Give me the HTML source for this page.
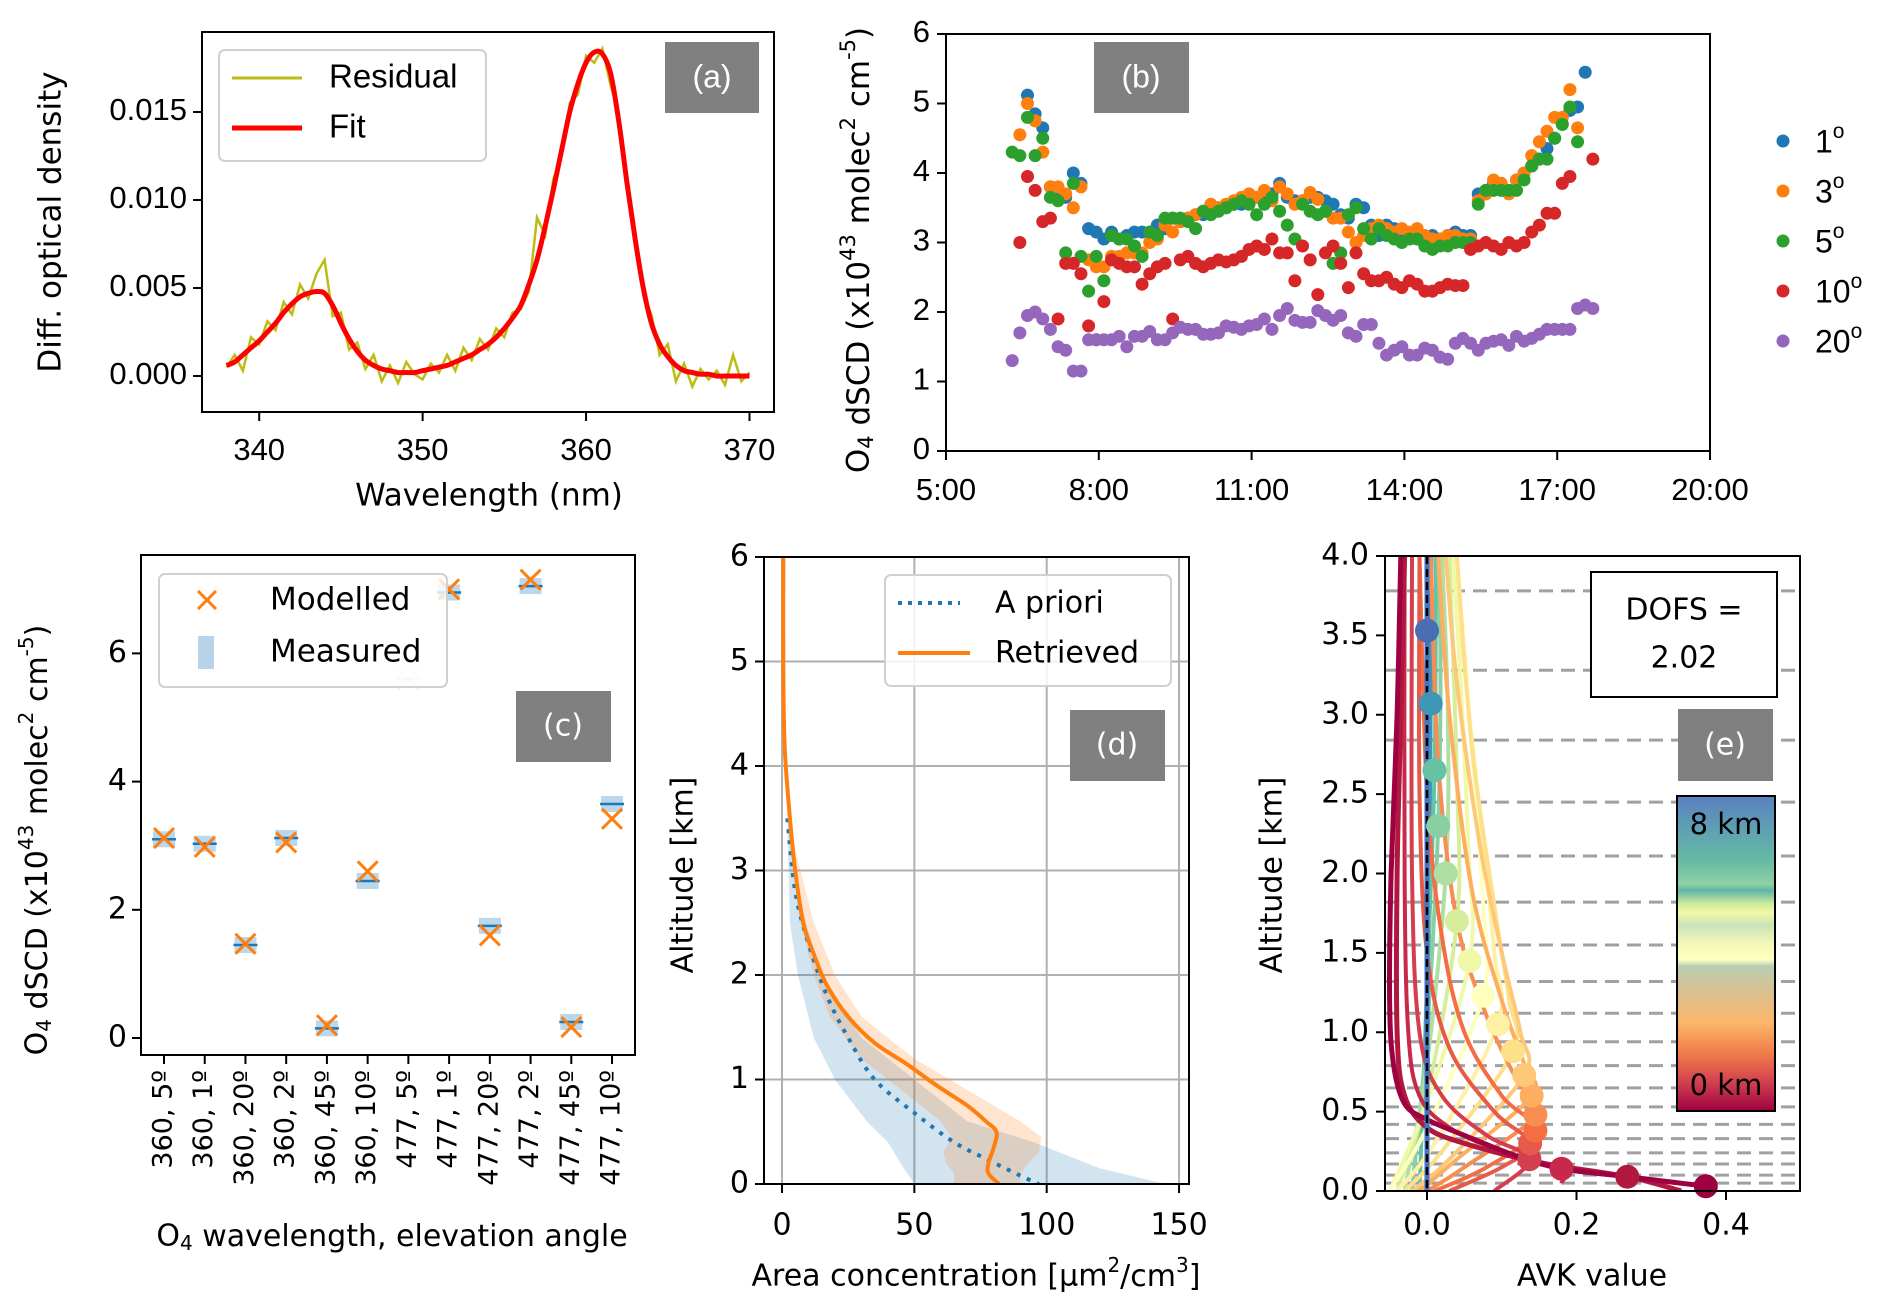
<!DOCTYPE html>
<html><head><meta charset="utf-8"><style>
html,body{margin:0;padding:0;background:#fff;}
svg{display:block;}
.t{font-family:"DejaVu Sans","Liberation Sans",sans-serif;fill:#000;}
.c{font-family:"Liberation Sans","DejaVu Sans",sans-serif;fill:#000;}
</style></head><body>
<svg id="fig" xmlns="http://www.w3.org/2000/svg" width="1892" height="1310" viewBox="0 0 1892 1310">
<defs>
<clipPath id="clipA"><rect x="202" y="32" width="572" height="380"/></clipPath>
<clipPath id="clipD"><rect x="764" y="557" width="425" height="627"/></clipPath>
<clipPath id="clipE"><rect x="1385" y="556" width="415" height="635"/></clipPath>
<linearGradient id="cbar" x1="0" y1="0" x2="0" y2="1">
<stop offset="0" stop-color="#5b7fbf"/><stop offset="0.1" stop-color="#5e9fb5"/><stop offset="0.2" stop-color="#63b9a4"/>
<stop offset="0.28" stop-color="#8fd0a2"/><stop offset="0.3" stop-color="#5fb3aa"/><stop offset="0.34" stop-color="#c9e89c"/>
<stop offset="0.37" stop-color="#f3f9a8"/><stop offset="0.41" stop-color="#c8e4b8"/><stop offset="0.47" stop-color="#f4f7b8"/>
<stop offset="0.52" stop-color="#ffffc0"/><stop offset="0.54" stop-color="#b8cfb4"/><stop offset="0.62" stop-color="#d8c090"/>
<stop offset="0.72" stop-color="#fbb668"/><stop offset="0.82" stop-color="#f07a4a"/><stop offset="0.91" stop-color="#d0404e"/>
<stop offset="1" stop-color="#9e0142"/></linearGradient>
</defs>

<g>
<text class="t" font-size="31" transform="translate(52,222) rotate(-90)" text-anchor="middle" dominant-baseline="middle">Diff. optical density</text>
<text class="t" font-size="31" x="489" y="497" text-anchor="middle" dominant-baseline="middle">Wavelength (nm)</text>
<g id="gA"></g>
<rect x="202" y="32" width="572" height="380" fill="none" stroke="#000" stroke-width="2"/>
<rect x="219" y="50" width="267" height="111" rx="6" fill="#fff" fill-opacity="0.85" stroke="#d0d0d0" stroke-width="2"/>
<line x1="232" y1="78" x2="302" y2="78" stroke="#bcbc14" stroke-width="3"/>
<text class="c" font-size="33" x="329" y="79" dominant-baseline="middle">Residual</text>
<line x1="232" y1="128" x2="302" y2="128" stroke="#ff0000" stroke-width="5"/>
<text class="c" font-size="33" x="329" y="129" dominant-baseline="middle">Fit</text>
<rect x="665" y="42" width="94" height="71" fill="#808080"/>
<text class="c" font-size="32" x="712" y="79" style="fill:#fff" text-anchor="middle" dominant-baseline="middle">(a)</text>
</g>

<g>
<text class="t" font-size="31" transform="translate(860,250) rotate(-90)" text-anchor="middle" dominant-baseline="middle">O<tspan font-size="21" dy="7">4</tspan><tspan dy="-7"> dSCD (x10</tspan><tspan font-size="21" dy="-11">43</tspan><tspan dy="11"> molec</tspan><tspan font-size="21" dy="-11">2</tspan><tspan dy="11"> cm</tspan><tspan font-size="21" dy="-11">-5</tspan><tspan dy="11">)</tspan></text>
<g id="gB"></g>
<rect x="946" y="34" width="764" height="417" fill="none" stroke="#000" stroke-width="2"/>
<rect x="1094" y="42" width="95" height="71" fill="#808080"/>
<text class="c" font-size="32" x="1141" y="79" style="fill:#fff" text-anchor="middle" dominant-baseline="middle">(b)</text>
<g id="gBLeg"></g>
</g>

<g>
<text class="t" font-size="30" transform="translate(38,840) rotate(-90)" text-anchor="middle" dominant-baseline="middle">O<tspan font-size="20" dy="7">4</tspan><tspan dy="-7"> dSCD (x10</tspan><tspan font-size="20" dy="-11">43</tspan><tspan dy="11"> molec</tspan><tspan font-size="20" dy="-11">2</tspan><tspan dy="11"> cm</tspan><tspan font-size="20" dy="-11">-5</tspan><tspan dy="11">)</tspan></text>
<text class="t" font-size="30" x="392" y="1237" text-anchor="middle" dominant-baseline="middle">O<tspan font-size="20" dy="7">4</tspan><tspan dy="-7"> wavelength, elevation angle</tspan></text>
<g id="gC"></g>
<rect x="141" y="555" width="494" height="500" fill="none" stroke="#000" stroke-width="2"/>
<rect x="159" y="574" width="288" height="113" rx="6" fill="#fff" fill-opacity="0.8" stroke="#d0d0d0" stroke-width="2"/>
<path d="M198,591 L216,609 M216,591 L198,609" stroke="#ff7f0e" stroke-width="3"/>
<text class="t" font-size="31" x="270" y="601" dominant-baseline="middle">Modelled</text>
<rect x="198" y="636" width="16" height="33" fill="#a6c8e4" fill-opacity="0.8"/>
<text class="t" font-size="31" x="270" y="653" dominant-baseline="middle">Measured</text>
<rect x="516" y="691" width="95" height="71" fill="#808080"/>
<text class="t" font-size="30" x="563" y="727" style="fill:#fff" text-anchor="middle" dominant-baseline="middle">(c)</text>
</g>

<g>
<text class="t" font-size="30" transform="translate(684,875) rotate(-90)" text-anchor="middle" dominant-baseline="middle">Altitude [km]</text>
<text class="t" font-size="30" x="976" y="1277" text-anchor="middle" dominant-baseline="middle">Area concentration [µm<tspan font-size="20" dy="-11">2</tspan><tspan dy="11">/cm</tspan><tspan font-size="20" dy="-11">3</tspan><tspan dy="11">]</tspan></text>
<g id="gD"></g>
<rect x="764" y="557" width="425" height="627" fill="none" stroke="#000" stroke-width="2"/>
<rect x="885" y="575" width="286" height="111" rx="6" fill="#fff" fill-opacity="0.85" stroke="#d0d0d0" stroke-width="2"/>
<line x1="898" y1="603" x2="960" y2="603" stroke="#1f77b4" stroke-width="4" stroke-dasharray="4,6"/>
<text class="t" font-size="30" x="995" y="604" dominant-baseline="middle">A priori</text>
<line x1="898" y1="653" x2="970" y2="653" stroke="#ff7f0e" stroke-width="4"/>
<text class="t" font-size="30" x="995" y="654" dominant-baseline="middle">Retrieved</text>
<rect x="1070" y="710" width="95" height="71" fill="#808080"/>
<text class="t" font-size="30" x="1117" y="746" style="fill:#fff" text-anchor="middle" dominant-baseline="middle">(d)</text>
</g>

<g>
<text class="t" font-size="30" transform="translate(1273,875) rotate(-90)" text-anchor="middle" dominant-baseline="middle">Altitude [km]</text>
<text class="t" font-size="30" x="1592" y="1277" text-anchor="middle" dominant-baseline="middle">AVK value</text>
<g id="gE"></g>
<rect x="1385" y="556" width="415" height="635" fill="none" stroke="#000" stroke-width="2"/>
<rect x="1591" y="572" width="186" height="125" fill="#fff" stroke="#000" stroke-width="2"/>
<text class="t" font-size="30" x="1684" y="611" text-anchor="middle" dominant-baseline="middle">DOFS =</text>
<text class="t" font-size="30" x="1684" y="659" text-anchor="middle" dominant-baseline="middle">2.02</text>
<rect x="1678" y="709" width="95" height="72" fill="#808080"/>
<text class="t" font-size="30" x="1725" y="746" style="fill:#fff" text-anchor="middle" dominant-baseline="middle">(e)</text>
<rect x="1677" y="796" width="98" height="315" fill="url(#cbar)" stroke="#000" stroke-width="2"/>
<text class="t" font-size="29" x="1726" y="826" text-anchor="middle" dominant-baseline="middle">8 km</text>
<text class="t" font-size="29" x="1726" y="1087" text-anchor="middle" dominant-baseline="middle">0 km</text>
</g>
</svg>
<script>
// ===== Panel (a) data =====
const aWavelength = [338,338.5,339,339.5,340,340.5,341,341.5,342,342.5,343,343.5,344,344.5,345,345.5,346,346.5,347,347.5,348,348.5,349,349.5,350,350.5,351,351.5,352,352.5,353,353.5,354,354.5,355,355.5,356,356.5,357,357.5,358,358.5,359,359.5,360,360.5,361,361.5,362,362.5,363,363.5,364,364.5,365,365.5,366,366.5,367,367.5,368,368.5,369,369.5,370];
const aFit = [.0006,.0008,.0012,.0016,.002,.0025,.003,.0036,.0041,.0045,.0047,.0048,.0047,.004,.003,.0021,.0014,.0009,.0006,.0004,.0003,.0002,.0002,.0002,.0003,.0004,.0005,.0006,.0008,.001,.0012,.0015,.0018,.0022,.0027,.0033,.004,.0052,.0066,.0085,.0106,.0128,.015,.0166,.0178,.0184,.0183,.0172,.0145,.011,.0078,.005,.003,.0018,.0011,.0006,.0003,.0002,.0001,.0001,0,0,0,0,0];
const aResidual = [.0005,.0012,.0003,.0022,.0018,.0031,.0026,.0042,.0035,.0052,.0044,.0058,.0066,.0034,.0036,.0015,.0019,.0004,.0012,-.0003,.0006,-.0004,.0008,.0001,-.0002,.0007,.0002,.0012,.0003,.0016,.0009,.0021,.0015,.0027,.0022,.0036,.0038,.0048,.0090,.0080,.0112,.0125,.0155,.0160,.0182,.0178,.0186,.0165,.0150,.0105,.0082,.0046,.0035,.0012,.0018,-.0003,.0007,-.0006,.0004,-.0002,.0003,-.0005,.0012,-.0003,.0002];
const aXTicks = [340,350,360,370];
const aYTicks = [0,0.005,0.010,0.015];
const aYTickLabels = ["0.000","0.005","0.010","0.015"];

// ===== Panel (b) data =====
const bTimes = [6.3,6.45,6.6,6.75,6.9,7.05,7.2,7.35,7.5,7.65,7.8,7.95,8.1,8.25,8.4,8.55,8.7,8.85,9.0,9.15,9.3,9.45,9.6,9.75,9.9,10.05,10.2,10.35,10.5,10.65,10.8,10.95,11.1,11.25,11.4,11.55,11.7,11.85,12.0,12.15,12.3,12.45,12.6,12.75,12.9,13.05,13.2,13.35,13.5,13.65,13.8,13.95,14.1,14.25,14.4,14.55,14.7,14.85,15.0,15.15,15.3,15.45,15.6,15.75,15.9,16.05,16.2,16.35,16.5,16.65,16.8,16.95,17.1,17.25,17.4,17.55,17.7];
const bElev1 = [null,null,5.12,4.85,4.65,3.8,3.75,3.65,4.0,3.85,3.2,3.15,3.05,3.15,3.05,3.1,3.15,3.15,3.15,3.25,3.2,3.35,3.3,3.35,3.4,3.4,3.45,3.5,3.5,3.55,3.55,3.6,3.65,3.7,3.7,3.85,3.65,3.6,3.6,3.65,3.65,3.6,3.55,3.4,3.35,3.55,3.5,3.25,3.1,3.25,3.2,3.05,3.1,3.1,3.05,3.1,3.05,3.1,3.15,3.1,3.1,3.7,3.75,3.85,3.85,3.75,3.9,4.0,4.1,4.2,4.35,4.5,4.7,4.9,4.95,5.45,null];
const bElev3 = [null,4.55,5.0,4.75,4.3,3.8,3.8,3.7,3.5,3.8,2.75,2.65,2.65,2.8,2.8,2.85,2.85,2.85,3.0,3.05,3.25,3.15,3.3,3.35,3.4,3.45,3.55,3.5,3.55,3.6,3.65,3.7,3.65,3.75,3.6,3.8,3.7,3.55,3.6,3.72,3.62,3.45,3.35,3.35,3.15,3.0,3.1,3.2,3.25,3.2,3.15,3.2,3.15,3.2,3.1,3.05,3.05,3.1,3.1,3.05,3.05,3.6,3.7,3.9,3.85,3.7,3.9,4.0,4.25,4.45,4.6,4.8,4.8,5.2,4.65,null,null];
const bElev5 = [4.3,4.25,4.8,4.25,4.5,3.65,3.6,2.85,3.85,2.8,2.3,2.8,2.45,3.1,3.05,3.05,2.95,2.8,3.15,3.1,3.35,3.35,3.35,3.3,3.2,3.45,3.4,3.45,3.5,3.55,3.6,3.55,3.4,3.55,3.65,3.45,3.25,3.05,3.55,3.45,3.4,3.45,2.7,2.85,3.4,3.5,3.2,3.05,3.2,3.1,3.05,3.0,3.05,3.05,2.95,2.9,2.95,2.95,3.0,3.0,3.0,3.55,3.75,3.75,3.75,3.75,3.75,3.9,4.1,4.2,4.2,4.5,4.7,4.95,4.45,null,null];
const bElev10 = [null,3.0,3.95,3.75,3.3,3.35,1.9,2.7,2.7,2.55,1.8,1.6,2.15,2.75,2.7,2.65,2.65,2.4,2.55,2.65,2.7,1.9,2.75,2.8,2.7,2.65,2.7,2.75,2.72,2.75,2.8,2.9,2.95,2.9,3.05,2.85,2.85,2.45,2.95,2.75,2.25,2.85,2.95,2.7,2.35,2.85,2.55,2.45,2.45,2.5,2.4,2.35,2.45,2.4,2.3,2.3,2.35,2.4,2.38,2.38,2.9,2.95,3.0,2.95,2.9,3.0,2.95,3.0,3.15,3.25,3.42,3.42,3.85,3.95,null,null,4.2];
const bElev20 = [1.3,1.7,1.95,2.0,1.9,1.75,1.5,1.45,1.15,1.15,1.6,1.6,1.6,1.6,1.65,1.5,1.65,1.65,1.72,1.6,1.6,1.7,1.78,1.75,1.75,1.68,1.68,1.7,1.8,1.78,1.75,1.8,1.82,1.9,1.75,1.95,2.05,1.88,1.85,1.85,2.02,1.95,1.88,1.95,1.7,1.65,1.82,1.82,1.55,1.38,1.45,1.5,1.38,1.38,1.48,1.45,1.35,1.32,1.55,1.62,1.55,1.45,1.55,1.58,1.6,1.52,1.65,1.58,1.62,1.68,1.75,1.75,1.75,1.75,2.05,2.1,2.05];
const bSeriesLabels = ["1","3","5","10","20"];
const bXTicks = [5,8,11,14,17,20];
const bXTickLabels = ["5:00","8:00","11:00","14:00","17:00","20:00"];
const bYTicks = [0,1,2,3,4,5,6];

// ===== Panel (c) data =====
const cCategories = ["360, 5º","360, 1º","360, 20º","360, 2º","360, 45º","360, 10º","477, 5º","477, 1º","477, 20º","477, 2º","477, 45º","477, 10º"];
const cMeasured = [3.1,3.03,1.45,3.12,0.15,2.45,5.6,6.95,1.75,7.05,0.25,3.65];
const cModelled = [3.12,2.98,1.47,3.05,0.2,2.6,5.6,7.0,1.6,7.15,0.17,3.42];
const cExcluded = [false,false,false,false,false,false,true,false,false,false,false,false];
const cYTicks = [0,2,4,6];

// ===== Panel (d) data =====
const dRetAlt = [6,5,4.2,3.5,3,2.5,2.2,1.9,1.6,1.35,1.15,0.95,0.75,0.6,0.5,0.35,0.2,0.1,0];
const dRetVal = [0.5,0.5,1,3,5,8,12,17,25,35,47,58,70,77,81,80,78,78,82];
const dRetBandAlt = [4,3.2,2.5,2.0,1.6,1.2,0.9,0.6,0.45,0.3,0.2,0.1,0];
const dRetBandHi = [1,5,12,20,30,50,70,90,98,97,93,90,90];
const dRetBandLo = [1,4,7,12,18,30,45,60,64,61,62,65,65];
const dPriAlt = [3.5,2.8,2.3,1.8,1.4,1.0,0.68,0.4,0.23,0.08,0];
const dPriVal = [2,5,10,17,25,35,50,65,78,90,97];
const dPriBandAlt = [3.5,3,2.5,2,1.4,1.0,0.6,0.4,0.15,0];
const dPriBandLo = [2,2.5,3,6,12,20,32,40,46,50];
const dPriBandHi = [2,5,9,15,30,50,70,95,120,145];
const dXTicks = [0,50,100,150];
const dYTicks = [0,1,2,3,4,5,6];

// ===== Panel (e) data =====
const eLayerAlt = [0.03,0.09,0.14,0.2,0.3,0.38,0.48,0.6,0.73,0.88,1.05,1.23,1.45,1.7,2.0,2.3,2.65,3.07,3.53];
const eLayerPeak = [0.373,0.268,0.18,0.137,0.138,0.145,0.145,0.14,0.13,0.115,0.095,0.075,0.057,0.04,0.025,0.015,0.01,0.005,0.0];
const eGridAlt = [3.78,3.28,2.84,2.45,2.11,1.82,1.55,1.32,1.12,0.94,0.79,0.65,0.53,0.42,0.33,0.24,0.17,0.10,0.05];
const eColors = ["#9e0142","#b2183f","#c8294a","#d53e4f","#e55a48","#f46d43","#f88d52","#fdae61","#fdc877","#fee08b","#fff0a6","#ffffbf","#f0f9a8","#d6ee9b","#b0dfa3","#88cfa4","#66c2a5","#3f96b7","#4a6fb0"];
const eCurveVal = [
 [0.373,0.268,0.18,0.12,0.05,0.0,-0.03,-0.045,-0.05,-0.048,-0.04,-0.035],
 [0.34,0.268,0.15,0.05,0.0,-0.03,-0.04,-0.04,-0.035,-0.03],
 [0.18,0.18,0.1,0.03,-0.01,-0.025,-0.03,-0.03],
 [0.09,0.137,0.08,0.02,-0.01,-0.02,-0.02],
 [0.03,0.1,0.138,0.09,0.03,0.0,-0.01,-0.01],
 [0.01,0.08,0.145,0.1,0.05,0.02,0.0,-0.01],
 [0.0,0.05,0.145,0.12,0.08,0.04,0.015,0.005],
 [-0.01,0.04,0.14,0.13,0.1,0.06,0.03,0.015],
 [-0.02,0.03,0.13,0.125,0.1,0.07,0.04,0.025],
 [-0.03,0.02,0.115,0.11,0.09,0.06,0.04],
 [-0.04,0.01,0.095,0.09,0.075,0.05,0.04],
 [-0.05,0.0,0.075,0.075,0.06,0.04],
 [-0.05,-0.005,0.057,0.055,0.045,0.035],
 [-0.04,0.0,0.04,0.04,0.03],
 [-0.03,0.0,0.025,0.028,0.02],
 [-0.02,0.0,0.015,0.018,0.015],
 [-0.01,0.0,0.01,0.012],
 [0.0,0.005,0.006],
 [0.0,0.0,0.0]];
const eCurveAlt = [
 [0.03,0.09,0.14,0.22,0.35,0.45,0.55,0.8,1.2,2,3,4],
 [0.0,0.09,0.18,0.3,0.4,0.6,1,2,3,4],
 [0.05,0.14,0.25,0.4,0.6,1,2,4],
 [0.0,0.2,0.35,0.6,1,2,4],
 [0.0,0.15,0.3,0.5,0.9,1.5,2.5,4],
 [0.0,0.15,0.38,0.6,1,1.6,2.5,4],
 [0.0,0.15,0.48,0.7,1.1,1.7,2.7,4],
 [0.0,0.2,0.6,0.8,1.2,1.9,3,4],
 [0.0,0.2,0.73,1,1.5,2.2,3.2,4],
 [0.0,0.25,0.88,1.2,1.8,2.8,4],
 [0.0,0.3,1.05,1.5,2.2,3.3,4],
 [0.0,0.4,1.23,1.8,2.8,4],
 [0.0,0.5,1.45,2.2,3.2,4],
 [0.0,0.6,1.7,2.6,4],
 [0.0,0.8,2.0,3,4],
 [0.0,1,2.3,3.3,4],
 [0.0,1.3,2.65,4],
 [0.0,3.07,4],
 [0.0,3.53,4]];
const eXTicks = [0,0.2,0.4];
const eXTickLabels = ["0.0","0.2","0.4"];
const eYTicks = [0,0.5,1,1.5,2,2.5,3,3.5,4];
const eYTickLabels = ["0.0","0.5","1.0","1.5","2.0","2.5","3.0","3.5","4.0"];

const NS = "http://www.w3.org/2000/svg";
function mk(tag, attrs, parent){
  const e = document.createElementNS(NS, tag);
  for (const k in attrs) e.setAttribute(k, attrs[k]);
  parent.appendChild(e);
  return e;
}
function smoothPath(pts){
  if (pts.length < 2) return "";
  let d = "M" + pts[0][0].toFixed(1) + "," + pts[0][1].toFixed(1);
  for (let i = 0; i < pts.length - 1; i++){
    const p0 = pts[Math.max(0,i-1)], p1 = pts[i], p2 = pts[i+1], p3 = pts[Math.min(pts.length-1,i+2)];
    const c1x = p1[0] + (p2[0]-p0[0])/6, c1y = p1[1] + (p2[1]-p0[1])/6;
    const c2x = p2[0] - (p3[0]-p1[0])/6, c2y = p2[1] - (p3[1]-p1[1])/6;
    d += " C" + c1x.toFixed(1)+","+c1y.toFixed(1)+" "+c2x.toFixed(1)+","+c2y.toFixed(1)+" "+p2[0].toFixed(1)+","+p2[1].toFixed(1);
  }
  return d;
}
function linePath(pts){ return pts.map((p,i)=>(i?"L":"M")+p[0].toFixed(1)+","+p[1].toFixed(1)).join(" "); }

// ===== Draw (a) =====
(function(){
  const g = document.getElementById('gA');
  const xa = v => 202 + (v-336.5)*(572/35);
  const ya = v => 376 - v/0.005*88;
  aXTicks.forEach(t=>{
    const l = mk('line',{x1:xa(t),x2:xa(t),y1:412,y2:421,stroke:'#000','stroke-width':2},g);
    
    
    const tx = mk('text',{x:xa(t),y:452,'font-size':31,'text-anchor':'middle','dominant-baseline':'middle',class:'c'},g);
    tx.textContent = String(t);
    
    
  });
  aYTicks.forEach((t,i)=>{
    const l = mk('line',{x1:193,x2:202,y1:ya(t),y2:ya(t),stroke:'#000','stroke-width':2},g);
    
    
    const tx = mk('text',{x:187,y:ya(t),'font-size':31,'text-anchor':'end','dominant-baseline':'middle',class:'c'},g);
    tx.textContent = aYTickLabels[i];
    
    
  });
  const n1 = Math.min(aWavelength.length, aResidual.length);
  const rp = []; for (let i=0;i<n1;i++) rp.push([xa(aWavelength[i]), ya(aResidual[i])]);
  const r = mk('path',{d:linePath(rp),fill:'none',stroke:'#bcbc14','stroke-width':2.5,'clip-path':'url(#clipA)'},g);
  
  
  const n2 = Math.min(aWavelength.length, aFit.length);
  const fp = []; for (let i=0;i<n2;i++) fp.push([xa(aWavelength[i]), ya(aFit[i])]);
  const f = mk('path',{d:smoothPath(fp),fill:'none',stroke:'#ff0000','stroke-width':5,'clip-path':'url(#clipA)'},g);
  
  
})();

// ===== Draw (b) =====
(function(){
  const g = document.getElementById('gB');
  const xb = h => 946 + (h-5)*(764/15);
  const yb = v => 451 - v*(417/6);
  bXTicks.forEach((t,i)=>{
    const l = mk('line',{x1:xb(t),x2:xb(t),y1:451,y2:460,stroke:'#000','stroke-width':2},g);
    
    
    const tx = mk('text',{x:xb(t),y:492,'font-size':31,'text-anchor':'middle','dominant-baseline':'middle',class:'c'},g);
    tx.textContent = bXTickLabels[i];
    
    
  });
  bYTicks.forEach(t=>{
    const l = mk('line',{x1:937,x2:946,y1:yb(t),y2:yb(t),stroke:'#000','stroke-width':2},g);
    
    
    const tx = mk('text',{x:930,y:yb(t),'font-size':31,'text-anchor':'end','dominant-baseline':'middle',class:'c'},g);
    tx.textContent = String(t);
    
    
  });
  const z = mk('line',{x1:946,x2:1710,y1:yb(0),y2:yb(0),stroke:'#000','stroke-width':2,'stroke-dasharray':'3,3'},g);
  
  
  const series = [bElev1,bElev3,bElev5,bElev10,bElev20];
  const cols = ['#1f77b4','#ff7f0e','#2ca02c','#d62728','#9467bd'];
  series.forEach((s,si)=>{
    const sg = mk('g',{fill:cols[si]},g);
    
    
    const n = Math.min(s.length,bTimes.length);
    for (let i=0;i<n;i++){
      if (s[i]===null) continue;
      const c = mk('circle',{cx:xb(bTimes[i]),cy:yb(s[i]),r:6.5},sg);
      
      
    }
  });
  const lg = document.getElementById('gBLeg');
  bSeriesLabels.forEach((lab,i)=>{
    const y = 141 + i*50;
    const c = mk('circle',{cx:1783,cy:y,r:6.5,fill:cols[i]},lg);
    
    
    const tx = mk('text',{x:1815,y:y+3,'font-size':32,'dominant-baseline':'middle',class:'c'},lg);
    tx.textContent = lab;
    const sup = mk('tspan',{'font-size':21,dy:-12},tx);
    sup.textContent = 'o';
    
    
  });
})();

// ===== Draw (c) =====
(function(){
  const g = document.getElementById('gC');
  const xc = i => 164 + i*40.73;
  const yc = v => 1038 - v*64.1;
  cYTicks.forEach(t=>{
    const l = mk('line',{x1:132,x2:141,y1:yc(t),y2:yc(t),stroke:'#000','stroke-width':2},g);
    
    
    const tx = mk('text',{x:127,y:yc(t),'font-size':30,'text-anchor':'end','dominant-baseline':'middle',class:'t'},g);
    tx.textContent = String(t);
    
    
  });
  cCategories.forEach((cat,i)=>{
    const l = mk('line',{x1:xc(i),x2:xc(i),y1:1055,y2:1064,stroke:'#000','stroke-width':2},g);
    
    
    const tx = mk('text',{'font-size':27,'text-anchor':'end','dominant-baseline':'middle',class:'t',transform:'translate('+xc(i)+',1070) rotate(-90)'},g);
    tx.textContent = cat;
    
    
  });
  cCategories.forEach((cat,i)=>{
    const op = cExcluded[i] ? 0.15 : 1;
    const y = yc(cMeasured[i]);
    const r = mk('rect',{x:xc(i)-11,y:y-8,width:22,height:16,fill:'#a6c8e4','fill-opacity':0.75*op},g);
    
    
    const l = mk('line',{x1:xc(i)-12,x2:xc(i)+12,y1:y,y2:y,stroke:'#1f77b4','stroke-width':2.5,'stroke-opacity':op},g);
    
    
    const my = yc(cModelled[i]), mx = xc(i);
    const m = mk('path',{d:'M'+(mx-10)+','+(my-10)+' L'+(mx+10)+','+(my+10)+' M'+(mx+10)+','+(my-10)+' L'+(mx-10)+','+(my+10),stroke:'#ff7f0e','stroke-width':3,'stroke-opacity':op,fill:'none'},g);
    
    
  });
})();

// ===== Draw (d) =====
(function(){
  const g = document.getElementById('gD');
  const xd = v => 782 + v*2.647;
  const yd = v => 1184 - v*104.5;
  dXTicks.forEach(t=>{
    const gl = mk('line',{x1:xd(t),x2:xd(t),y1:557,y2:1184,stroke:'#b0b0b0','stroke-width':2},g);
    
    
    const l = mk('line',{x1:xd(t),x2:xd(t),y1:1184,y2:1193,stroke:'#000','stroke-width':2},g);
    
    
    const tx = mk('text',{x:xd(t),y:1226,'font-size':30,'text-anchor':'middle','dominant-baseline':'middle',class:'t'},g);
    tx.textContent = String(t);
    
    
  });
  dYTicks.forEach(t=>{
    const gl = mk('line',{x1:764,x2:1189,y1:yd(t),y2:yd(t),stroke:'#b0b0b0','stroke-width':2},g);
    
    
    const l = mk('line',{x1:755,x2:764,y1:yd(t),y2:yd(t),stroke:'#000','stroke-width':2},g);
    
    
    const tx = mk('text',{x:749,y:yd(t),'font-size':30,'text-anchor':'end','dominant-baseline':'middle',class:'t'},g);
    tx.textContent = String(t);
    
    
  });
  function band(alts, lo, hi){
    const a=[], b=[];
    for (let i=0;i<alts.length;i++){ a.push([xd(lo[i]),yd(alts[i])]); b.push([xd(hi[i]),yd(alts[i])]); }
    return linePath(a.concat(b.reverse())) + " Z";
  }
  const pb = mk('path',{d:band(dPriBandAlt,dPriBandLo,dPriBandHi),fill:'#1f77b4','fill-opacity':0.2,'clip-path':'url(#clipD)'},g);
  
  
  const rb = mk('path',{d:band(dRetBandAlt,dRetBandLo,dRetBandHi),fill:'#ff7f0e','fill-opacity':0.2,'clip-path':'url(#clipD)'},g);
  
  
  const pp = dPriAlt.map((a,i)=>[xd(dPriVal[i]),yd(a)]);
  const pl = mk('path',{d:smoothPath(pp),fill:'none',stroke:'#1f77b4','stroke-width':4,'stroke-dasharray':'4,7','clip-path':'url(#clipD)'},g);
  
  
  const rp = dRetAlt.map((a,i)=>[xd(dRetVal[i]),yd(a)]);
  const rl = mk('path',{d:smoothPath(rp),fill:'none',stroke:'#ff7f0e','stroke-width':4,'clip-path':'url(#clipD)'},g);
  
  
})();

// ===== Draw (e) =====
(function(){
  const g = document.getElementById('gE');
  const xe = v => 1427 + v*747.5;
  const ye = v => 1191 - v*158.75;
  eGridAlt.forEach(a=>{
    const l = mk('line',{x1:1385,x2:1800,y1:ye(a),y2:ye(a),stroke:'#a0a0a0','stroke-width':3,'stroke-dasharray':'14,8'},g);
    
    
  });
  eXTicks.forEach((t,i)=>{
    const l = mk('line',{x1:xe(t),x2:xe(t),y1:1191,y2:1200,stroke:'#000','stroke-width':2},g);
    
    
    const tx = mk('text',{x:xe(t),y:1226,'font-size':30,'text-anchor':'middle','dominant-baseline':'middle',class:'t'},g);
    tx.textContent = eXTickLabels[i];
    
    
  });
  eYTicks.forEach((t,i)=>{
    const l = mk('line',{x1:1376,x2:1385,y1:ye(t),y2:ye(t),stroke:'#000','stroke-width':2},g);
    
    
    const tx = mk('text',{x:1369,y:ye(t),'font-size':30,'text-anchor':'end','dominant-baseline':'middle',class:'t'},g);
    tx.textContent = eYTickLabels[i];
    
    
  });
  const cg = mk('g',{'clip-path':'url(#clipE)'},g);
  
  
  for (let k=eCurveVal.length-1;k>=0;k--){
    const pts = eCurveVal[k].map((v,i)=>[xe(v),ye(eCurveAlt[k][i])]);
    const p = mk('path',{d:smoothPath(pts),fill:'none',stroke:eColors[k],'stroke-width':k<2?5:4},cg);
    
    
  }
  const zl = mk('line',{x1:xe(0),x2:xe(0),y1:556,y2:1191,stroke:'#4472c4','stroke-width':5},g);
  
  
  const zd = mk('line',{x1:xe(0),x2:xe(0),y1:556,y2:1191,stroke:'#000','stroke-width':2.5,'stroke-dasharray':'8,5'},g);
  
  
  for (let k=0;k<eLayerAlt.length;k++){
    const c = mk('circle',{cx:xe(eLayerPeak[k]),cy:ye(eLayerAlt[k]),r:12,fill:eColors[k]},g);
    
    
  }
})();
</script>
</body></html>
